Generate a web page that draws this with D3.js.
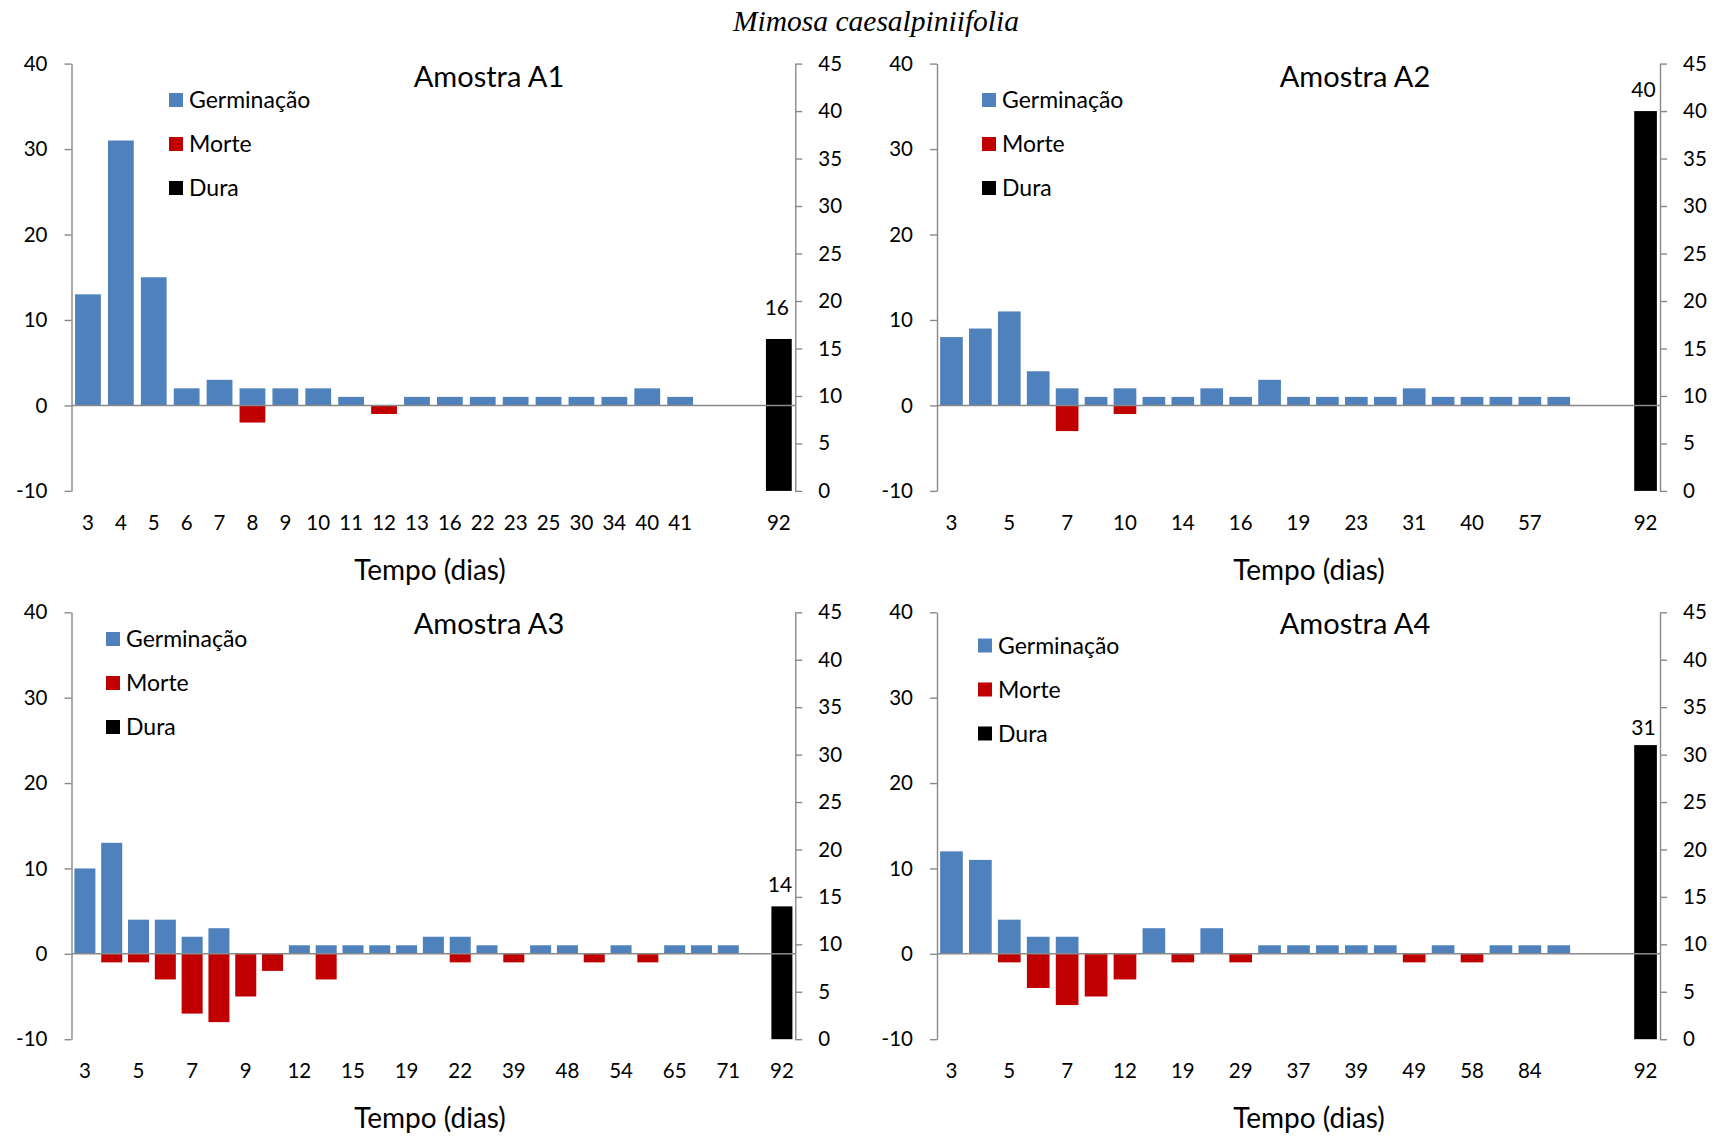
<!DOCTYPE html>
<html>
<head>
<meta charset="utf-8">
<script src="https://cdn.jsdelivr.net/npm/d3@7"></script>
<style>
  html, body { margin: 0; padding: 0; background: #fff; }
  svg { display: block; }
  text { font-family: Lato, "Open Sans", sans-serif; fill: #000; }
</style>
</head>
<body>
<svg id="chart" width="1722" height="1136"></svg>
<script>
// ---- data: germinated (+), dead (-) seeds per reading day; hard seeds at day 92 ----
const ticksA1 = ["3","4","5","6","7","8","9","10","11","12","13","16","22","23","25","30","34","40","41","","","92"];
const germA1  = [13,31,15,2,3,2,2,2,1,0,1,1,1,1,1,1,1,2,1,null,null,null];
const morteA1 = [0,0,0,0,0,-2,0,0,0,-1,0,0,0,0,0,0,0,0,0,null,null,null];
const duraA1  = 16;

const ticksA2 = ["3","","5","","7","","10","","14","","16","","19","","23","","31","","40","","57","","","","92"];
const germA2  = [8,9,11,4,2,1,2,1,1,2,1,3,1,1,1,1,2,1,1,1,1,1,null,null,null];
const morteA2 = [0,0,0,0,-3,0,-1,0,0,0,0,0,0,0,0,0,0,0,0,0,0,0,null,null,null];
const duraA2  = 40;

const ticksA3 = ["3","","5","","7","","9","","12","","15","","19","","22","","39","","48","","54","","65","","71","","92"];
const germA3  = [10,13,4,4,2,3,0,0,1,1,1,1,1,2,2,1,0,1,1,0,1,0,1,1,1,null,null];
const morteA3 = [0,-1,-1,-3,-7,-8,-5,-2,0,-3,0,0,0,0,-1,0,-1,0,0,-1,0,-1,0,0,0,null,null];
const duraA3  = 14;

const ticksA4 = ["3","","5","","7","","12","","19","","29","","37","","39","","49","","58","","84","","","","92"];
const germA4  = [12,11,4,2,2,0,0,3,0,3,0,1,1,1,1,1,0,1,0,1,1,1,null,null,null];
const morteA4 = [0,0,-1,-4,-6,-5,-3,0,-1,0,-1,0,0,0,0,0,-1,0,-1,0,0,0,null,null,null];
const duraA4  = 31;

const panelNames  = ["Amostra A1","Amostra A2","Amostra A3","Amostra A4"];
const legendNames = ["Germinação","Morte","Dura"];
const leftTicks   = [-10,0,10,20,30,40];
const rightTicks  = [0,5,10,15,20,25,30,35,40,45];
const xTitle      = "Tempo (dias)";
const mainTitle   = "Mimosa caesalpiniifolia";

// ---- styling and layout ----
const colors = { germ: "#4F81BD", morte: "#C00000", dura: "#000000", axis: "#898989" };

const layout = [
  { x0: 71.5,  x1: 795.3, top: 63.6,  bottom: 490.9, titleX: 489,  titleY: 77,  legX: 169, legY: 100, legStep: 44, xLabY: 523,  xTitleX: 430,  xTitleY: 570,  valGap: 24 },
  { x0: 937,   x1: 1660,  top: 63.6,  bottom: 490.9, titleX: 1355, titleY: 77,  legX: 982, legY: 100, legStep: 44, xLabY: 523,  xTitleX: 1309, xTitleY: 570,  valGap: 14 },
  { x0: 71.5,  x1: 795.3, top: 612.3, bottom: 1039.2, titleX: 489, titleY: 624, legX: 106, legY: 639, legStep: 44, xLabY: 1071, xTitleX: 430,  xTitleY: 1118, valGap: 14 },
  { x0: 937,   x1: 1660,  top: 612.3, bottom: 1039.2, titleX: 1355, titleY: 624, legX: 978, legY: 645.5, legStep: 44, xLabY: 1071, xTitleX: 1309, xTitleY: 1118, valGap: 10 }
];

const panels = [
  { name: panelNames[0], ticks: ticksA1, germ: germA1, morte: morteA1, dura: duraA1 },
  { name: panelNames[1], ticks: ticksA2, germ: germA2, morte: morteA2, dura: duraA2 },
  { name: panelNames[2], ticks: ticksA3, germ: germA3, morte: morteA3, dura: duraA3 },
  { name: panelNames[3], ticks: ticksA4, germ: germA4, morte: morteA4, dura: duraA4 }
];

const svg = d3.select("#chart");
const plainNum = d => String(d);   // hyphen-minus, as in the axis labels

svg.append("text")
  .attr("x", 876).attr("y", 31)
  .attr("text-anchor", "middle")
  .style("font-family", "'Liberation Serif', 'DejaVu Serif', serif")
  .style("font-style", "italic")
  .style("font-size", "29.5px")
  .text(mainTitle);

panels.forEach((p, pi) => {
  const L = layout[pi];
  const g = svg.append("g");
  const idx = d3.range(p.ticks.length);

  const x = d3.scaleBand().domain(idx).range([L.x0, L.x1]).paddingInner(0.216).paddingOuter(0.108);
  const y = d3.scaleLinear().domain([-10, 40]).range([L.bottom, L.top]);
  const yR = d3.scaleLinear().domain([0, 45]).range([L.bottom, L.top]);

  // germination bars (above zero)
  g.append("g").selectAll("rect")
    .data(idx.filter(i => p.germ[i] != null && p.germ[i] > 0))
    .join("rect")
    .attr("x", i => x(i)).attr("width", x.bandwidth())
    .attr("y", i => y(p.germ[i])).attr("height", i => y(0) - y(p.germ[i]))
    .attr("fill", colors.germ);

  // mortality bars (below zero)
  g.append("g").selectAll("rect")
    .data(idx.filter(i => p.morte[i] != null && p.morte[i] < 0))
    .join("rect")
    .attr("x", i => x(i)).attr("width", x.bandwidth())
    .attr("y", y(0)).attr("height", i => y(p.morte[i]) - y(0))
    .attr("fill", colors.morte);

  // hard seeds on the secondary axis, last category
  const last = idx[idx.length - 1];
  g.append("rect")
    .attr("x", x(last)).attr("width", x.bandwidth())
    .attr("y", yR(p.dura)).attr("height", yR(0) - yR(p.dura))
    .attr("fill", colors.dura);
  g.append("text")
    .attr("x", x(last) + x.bandwidth() / 2 - 2)
    .attr("y", yR(p.dura) - L.valGap)
    .attr("text-anchor", "middle")
    .style("font-size", "21px")
    .text(p.dura);

  // zero line across the plot
  g.append("line")
    .attr("x1", L.x0).attr("x2", L.x1)
    .attr("y1", y(0)).attr("y2", y(0))
    .attr("stroke", colors.axis).attr("stroke-width", 1.4);

  // primary (left) axis
  const ax = g.append("g").attr("transform", `translate(${L.x0},0)`)
    .call(d3.axisLeft(y).tickValues(leftTicks).tickFormat(plainNum).tickSize(7).tickPadding(17).tickSizeOuter(0));
  // secondary (right) axis
  const axR = g.append("g").attr("transform", `translate(${L.x1},0)`)
    .call(d3.axisRight(yR).tickValues(rightTicks).tickFormat(plainNum).tickSize(7).tickPadding(16).tickSizeOuter(0));
  [ax, axR].forEach(a => {
    a.select(".domain").attr("stroke", colors.axis).attr("stroke-width", 1.4);
    a.selectAll(".tick line").attr("stroke", colors.axis).attr("stroke-width", 1.4);
    a.selectAll("text").style("font-size", "20.5px").attr("font-family", null).attr("fill", "#000");
  });

  // category labels
  const axB = g.append("g").attr("transform", `translate(0,${L.xLabY})`)
    .call(d3.axisBottom(x).tickFormat(i => p.ticks[i]).tickSize(0).tickPadding(0));
  axB.select(".domain").remove();
  axB.selectAll("text").attr("y", 0).attr("dy", "0.36em")
    .style("font-size", "20.5px").attr("font-family", null).attr("fill", "#000");

  // panel title and axis title
  g.append("text").attr("x", L.titleX).attr("y", L.titleY).attr("dy", "0.36em")
    .attr("text-anchor", "middle").style("font-size", "29px").text(p.name);
  g.append("text").attr("x", L.xTitleX).attr("y", L.xTitleY).attr("dy", "0.36em")
    .attr("text-anchor", "middle").style("font-size", "28px").text(xTitle);

  // legend
  const legColors = [colors.germ, colors.morte, colors.dura];
  legendNames.forEach((name, k) => {
    const cy = L.legY + k * L.legStep;
    g.append("rect").attr("x", L.legX).attr("y", cy - 7).attr("width", 14).attr("height", 14)
      .attr("fill", legColors[k]);
    g.append("text").attr("x", L.legX + 20).attr("y", cy).attr("dy", "0.36em")
      .style("font-size", "23px").text(name);
  });
});
</script>
</body>
</html>
